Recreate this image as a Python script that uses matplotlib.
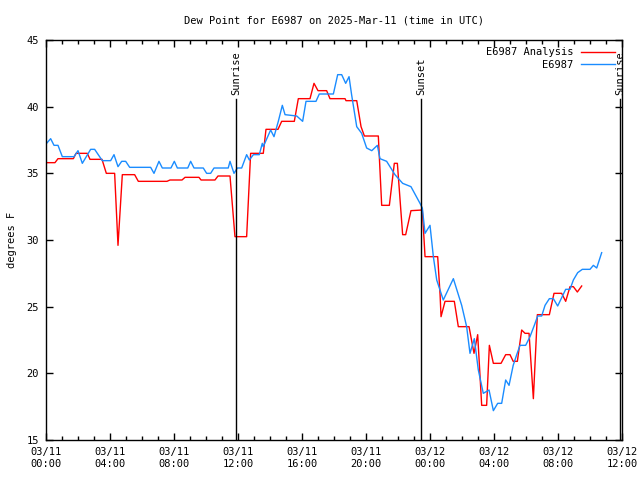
import matplotlib
matplotlib.use("Agg")
import matplotlib.pyplot as plt
from matplotlib.ticker import MultipleLocator

# hours since 03/11 00:00 UTC and dew point (F)
analysis_hours = [0.0, 0.56, 0.75, 1.71, 1.875, 2.58, 2.75, 3.5, 3.77, 4.29, 4.5, 4.77,
                  5.54, 5.77, 7.56, 7.75, 8.5, 8.69, 9.56, 9.69, 10.56, 10.75, 11.5, 11.81,
                  12.54, 12.79, 13.58, 13.75, 14.5, 14.73, 15.52, 15.77, 16.5, 16.75, 17.0,
                  17.54, 17.75, 18.69, 18.75, 19.42, 19.69, 19.9, 20.77, 20.98, 21.46, 21.77,
                  21.96, 22.29, 22.48, 22.81, 23.52, 23.69, 24.48, 24.63, 24.69, 24.94, 25.52,
                  25.77, 26.44, 26.75, 26.98, 27.23, 27.54, 27.71, 27.96, 28.44, 28.73, 29.0,
                  29.2, 29.46, 29.73, 29.94, 30.19, 30.46, 30.71, 31.46, 31.75, 32.23, 32.48,
                  32.75, 32.96, 33.21, 33.48]
analysis_dewp = [35.8, 35.8, 36.1, 36.1, 36.5, 36.5, 36.05, 36.05, 35.0, 35.0, 29.6, 34.9,
                 34.9, 34.4, 34.4, 34.5, 34.5, 34.7, 34.7, 34.5, 34.5, 34.8, 34.8, 30.25,
                 30.25, 36.5, 36.5, 38.3, 38.3, 38.9, 38.9, 40.6, 40.6, 41.75, 41.2,
                 41.2, 40.6, 40.6, 40.45, 40.45, 38.5, 37.8, 37.8, 32.6, 32.6, 35.75,
                 35.75, 30.4, 30.4, 32.2, 32.25, 28.75, 28.75, 25.9, 24.25, 25.4, 25.4,
                 23.5, 23.5, 21.5, 22.9, 17.6, 17.6, 22.1, 20.75, 20.75, 21.4, 21.4,
                 20.9, 20.9, 23.25, 23.0, 23.0, 18.1, 24.4, 24.4, 26.0, 26.0, 25.4,
                 26.5, 26.5, 26.1, 26.55]

obs_hours = [0.0, 0.29, 0.5, 0.75, 1.02, 1.75, 2.0, 2.27, 2.79, 3.04, 3.52, 4.04, 4.25,
             4.5, 4.73, 4.98, 5.23, 6.54, 6.75, 7.06, 7.27, 7.81, 8.02, 8.21, 8.86, 9.04,
             9.25, 9.83, 10.04, 10.29, 10.5, 11.39, 11.5, 11.75, 11.96, 12.23, 12.54, 12.71,
             12.96, 13.33, 13.52, 13.58, 14.04, 14.25, 14.52, 14.77, 14.94, 15.67, 16.04,
             16.25, 16.875, 17.08, 17.96, 18.23, 18.48, 18.73, 18.94, 19.1, 19.42, 19.73,
             20.04, 20.36, 20.71, 20.875, 21.29, 21.81, 22.29, 22.81, 23.375, 23.52, 23.69,
             24.0, 24.21, 24.42, 24.83, 25.46, 25.98, 26.29, 26.5, 26.77, 27.02, 27.33,
             27.69, 27.96, 28.23, 28.48, 28.73, 28.94, 29.2, 29.42, 29.625, 29.98, 30.25,
             30.52, 30.73, 30.98, 31.19, 31.46, 31.71, 31.98, 32.48, 32.75, 32.96, 33.23,
             33.52, 34.0, 34.21, 34.42, 34.73]
obs_dewp = [37.2, 37.6, 37.1, 37.1, 36.25, 36.25, 36.7, 35.75, 36.8, 36.8, 35.95, 35.95, 36.4,
            35.5, 35.9, 35.9, 35.45, 35.45, 35.0, 35.9, 35.4, 35.4, 35.9, 35.4, 35.4, 35.9,
            35.4, 35.4, 35.0, 35.0, 35.4, 35.4, 35.9, 35.0, 35.4, 35.4, 36.4, 36.0,
            36.4, 36.4, 37.25, 37.0, 38.25, 37.75, 38.9, 40.1, 39.4, 39.3, 38.9,
            40.4, 40.4, 40.95, 40.95, 42.4, 42.4, 41.75, 42.25, 40.9, 38.5, 38.0,
            36.9, 36.7, 37.1, 36.1, 35.9, 34.9, 34.25, 34.0, 32.75, 32.4, 30.5,
            31.1, 28.75, 27.0, 25.5, 27.1, 25.1, 23.5, 21.5, 22.6, 20.25, 18.5,
            18.75, 17.2, 17.75, 17.75, 19.5, 19.1, 20.6, 21.4, 22.1, 22.1, 22.75,
            23.6, 24.3, 24.3, 25.1, 25.6, 25.6, 25.05, 26.3, 26.3, 27.0, 27.55,
            27.8, 27.8, 28.1, 27.9, 29.05]

sun_events = [11.875, 23.4375, 35.875]
sun_labels = ["Sunrise", "Sunset", "Sunrise"]

tick_hours = [0, 4, 8, 12, 16, 20, 24, 28, 32, 36]
tick_labels = ["03/11\n00:00", "03/11\n04:00", "03/11\n08:00", "03/11\n12:00",
               "03/11\n16:00", "03/11\n20:00", "03/12\n00:00", "03/12\n04:00",
               "03/12\n08:00", "03/12\n12:00"]

plt.rcParams['font.family'] = ['DejaVu Sans Mono']
plt.rcParams['font.size'] = 7.5

fig = plt.figure(figsize=(6.4, 4.8), dpi=100)
ax = fig.add_axes([46 / 640, 40 / 480, 576 / 640, 400 / 480])

ax.plot(analysis_hours, analysis_dewp, color='#ff0000', lw=1.0, label='E6987 Analysis')
ax.plot(obs_hours, obs_dewp, color='#1a8cff', lw=1.0, label='E6987')

# sunrise / sunset markers
for h, name in zip(sun_events, sun_labels):
    ax.plot([h, h], [15, 40.6], color='black', lw=1.0)
    ax.text(h, 40.9, name, rotation=90, ha='center', va='bottom', fontsize=7.5)

ax.set_xlim(0, 36)
ax.set_ylim(15, 45)
ax.set_xticks(tick_hours)
ax.set_xticklabels(tick_labels)
ax.xaxis.set_minor_locator(MultipleLocator(1))
ax.yaxis.set_major_locator(MultipleLocator(5))
ax.tick_params(which='both', direction='in', top=True, right=True, width=1)
ax.tick_params(which='major', length=5, pad=5)
ax.tick_params(which='minor', length=3)
for s in ax.spines.values():
    s.set_linewidth(1.0)

ax.set_ylabel('degrees F', labelpad=7)
ax.set_title('Dew Point for E6987 on 2025-Mar-11 (time in UTC)', fontsize=7.5, pad=12)

ax.legend(loc='upper right', frameon=False, markerfirst=False, handlelength=3.2,
          borderaxespad=0.3, labelspacing=0.25, fontsize=7.5)

fig.savefig('out.png', dpi=100)
